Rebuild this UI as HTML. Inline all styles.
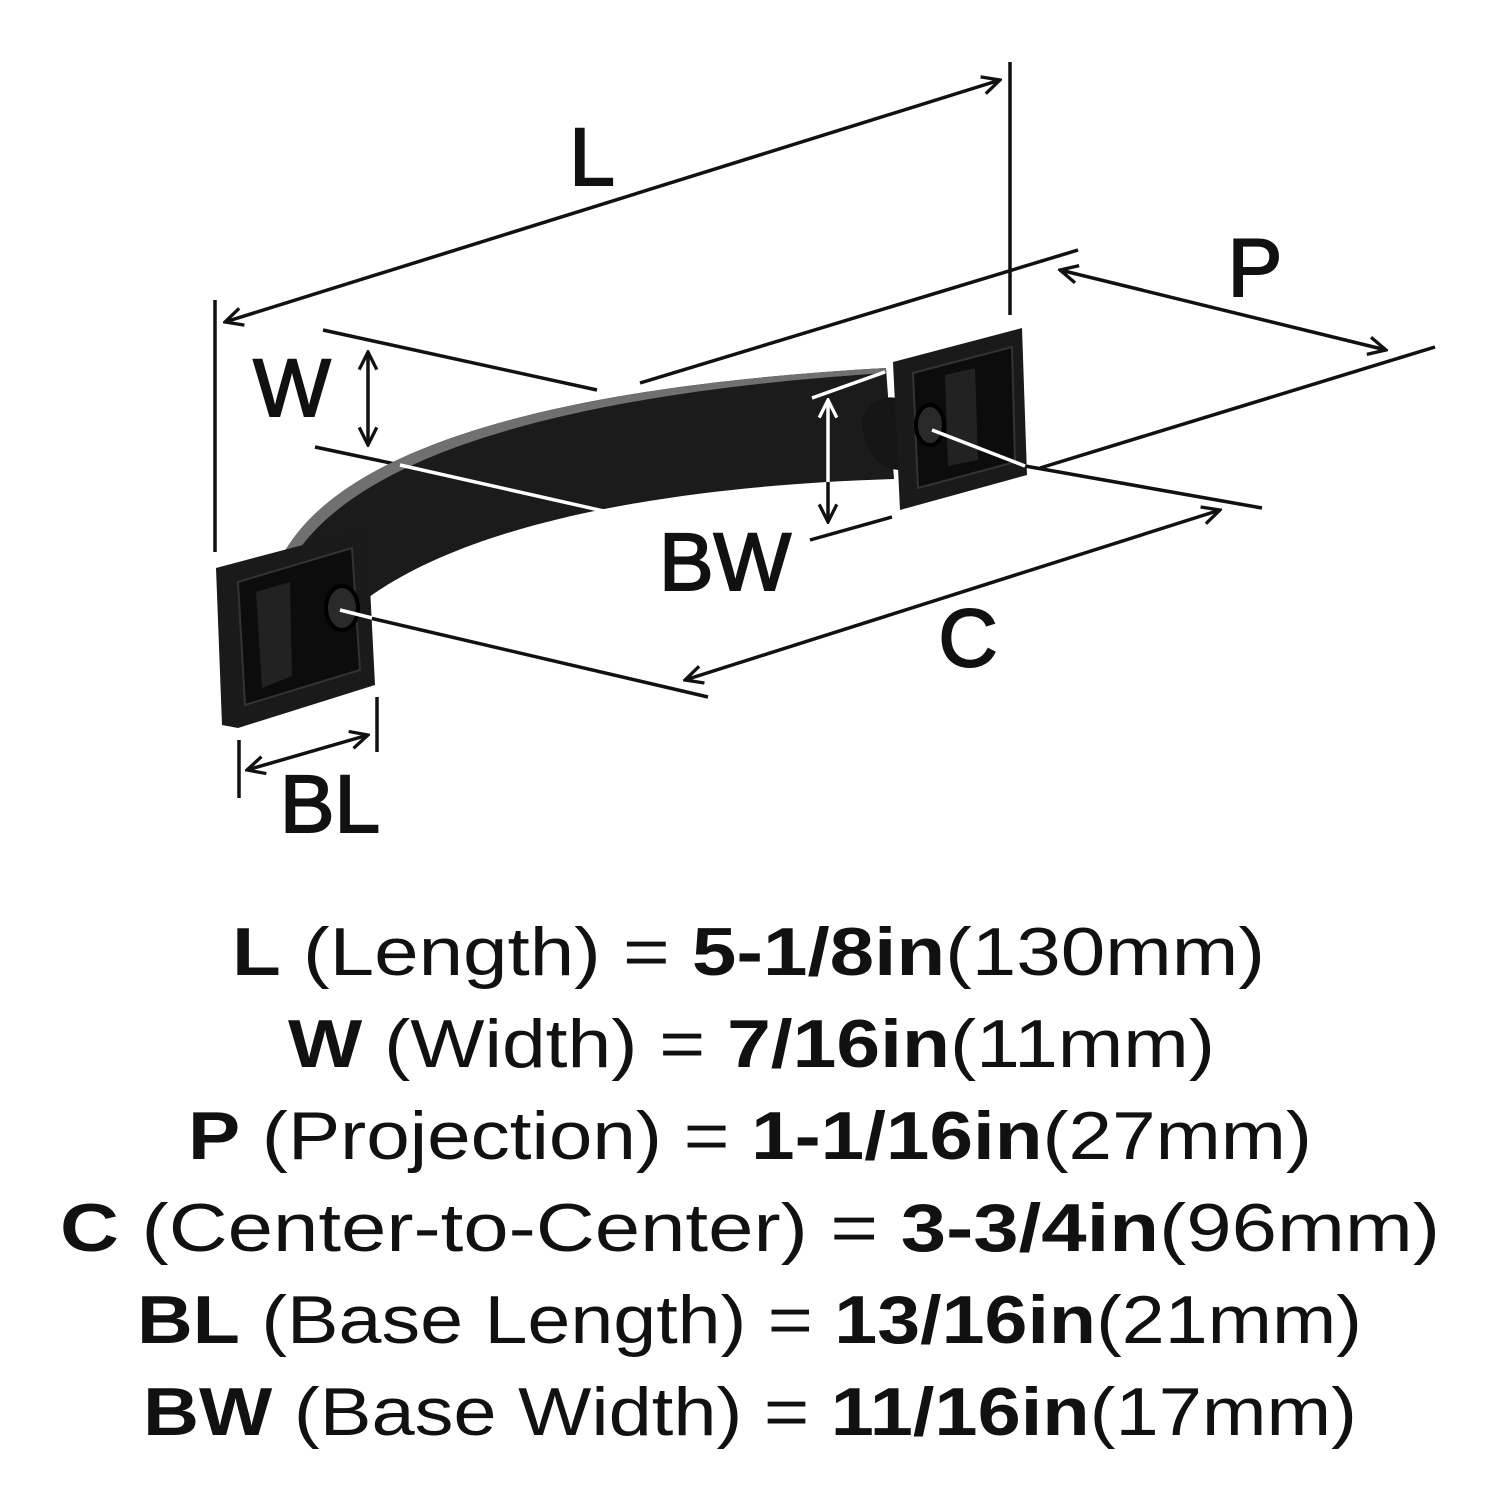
<!DOCTYPE html>
<html><head><style>
html,body{margin:0;padding:0;background:#fff;width:1500px;height:1500px;overflow:hidden}
svg{position:absolute;left:0;top:0}
.t{font-family:"Liberation Sans",sans-serif;font-size:68px;fill:#111}
.b{font-weight:bold}
.lab{font-family:"Liberation Sans",sans-serif;font-size:82px;fill:#111;stroke:#111;stroke-width:2}
</style></head><body>
<svg width="1500" height="1500" viewBox="0 0 1500 1500">
<defs>
<marker id="a" viewBox="0 0 20 20" refX="18" refY="10" markerWidth="22" markerHeight="22" markerUnits="userSpaceOnUse" orient="auto-start-reverse">
<path d="M2 2 L18 10 L2 18" fill="none" stroke="#111" stroke-width="3"/></marker>
<marker id="aw" viewBox="0 0 20 20" refX="18" refY="10" markerWidth="22" markerHeight="22" markerUnits="userSpaceOnUse" orient="auto-start-reverse">
<path d="M2 2 L18 10 L2 18" fill="none" stroke="#fff" stroke-width="3"/></marker>
</defs>
<g stroke="#111" stroke-width="3.5" fill="none">
<line x1="215" y1="300" x2="215" y2="552"/>
<line x1="1010" y1="62" x2="1010" y2="315"/>
<line x1="225" y1="322" x2="1000" y2="80" marker-start="url(#a)" marker-end="url(#a)"/>
<line x1="323" y1="330" x2="597" y2="390"/>
<line x1="315" y1="447" x2="400" y2="465"/>
<line x1="368" y1="352" x2="368" y2="445" marker-start="url(#a)" marker-end="url(#a)"/>
<line x1="640" y1="383" x2="1078" y2="250"/>
<line x1="1060" y1="270" x2="1386" y2="350" marker-start="url(#a)" marker-end="url(#a)"/>
<line x1="1040" y1="468" x2="1435" y2="347"/>
<line x1="685" y1="680" x2="1220" y2="510" marker-start="url(#a)" marker-end="url(#a)"/>
<line x1="1025" y1="466" x2="1262" y2="508"/>
<line x1="370" y1="618" x2="708" y2="697"/>
<line x1="810" y1="540" x2="892" y2="517"/>
<line x1="239" y1="740" x2="239" y2="798"/>
<line x1="377" y1="697" x2="377" y2="752"/>
<line x1="247" y1="770" x2="368" y2="735" marker-start="url(#a)" marker-end="url(#a)"/>
</g>
<!-- handle band -->
<path d="M280 560 C340 440 580 385 886 368 L894 479 C700 485 480 515 365 600 Z" fill="#1b1b1b"/>
<path d="M280 560 C340 440 580 385 886 368 L886 373 C590 392 360 448 292 560 Z" fill="#707070"/>
<!-- left plate -->
<polygon points="216,568 367,528 375,685 238,728 222,725" fill="#1a1a1a"/>
<polygon points="238,582 352,548 360,670 245,705" fill="#0c0c0c" stroke="#333" stroke-width="2"/>
<polygon points="256,592 290,582 292,676 262,688" fill="#222"/>
<ellipse cx="342" cy="608" rx="16" ry="22" fill="#2a2a2a" stroke="#000" stroke-width="4"/>
<!-- right plate -->
<path d="M862 420 C870 395 895 395 900 400 L900 470 C880 470 862 450 862 420 Z" fill="#151515"/>
<polygon points="893,362 1022,328 1027,475 900,510" fill="#1a1a1a"/>
<polygon points="913,373 1012,347 1015,462 918,488" fill="#0c0c0c" stroke="#333" stroke-width="2"/>
<polygon points="945,375 975,368 978,460 948,466" fill="#222"/>
<ellipse cx="930" cy="425" rx="14" ry="20" fill="#2a2a2a" stroke="#000" stroke-width="4"/>
<g stroke="#fff" stroke-width="3.5" fill="none">
<line x1="400" y1="465" x2="608" y2="512"/>
<line x1="340" y1="610" x2="372" y2="618"/>
<line x1="932" y1="430" x2="1025" y2="466"/>
<line x1="812" y1="398" x2="885" y2="372"/>
</g>
<line x1="828" y1="400" x2="828" y2="488" stroke="#fff" stroke-width="3.5" marker-start="url(#aw)"/>
<line x1="828" y1="482" x2="828" y2="522" stroke="#111" stroke-width="3.5" marker-end="url(#a)"/>
<text class="lab" x="592" y="185" text-anchor="middle">L</text>
<text class="lab" x="292" y="416" text-anchor="middle">W</text>
<text class="lab" x="1255" y="296" text-anchor="middle">P</text>
<text class="lab" x="968" y="666" text-anchor="middle">C</text>
<text class="lab" x="725" y="590" text-anchor="middle">BW</text>
<text class="lab" x="330" y="832" text-anchor="middle">BL</text>
<text class="t" x="232" y="975" textLength="1033" lengthAdjust="spacingAndGlyphs"><tspan class="b">L</tspan> (Length) = <tspan class="b">5-1/8in</tspan>(130mm)</text>
<text class="t" x="288" y="1067" textLength="927" lengthAdjust="spacingAndGlyphs"><tspan class="b">W</tspan> (Width) = <tspan class="b">7/16in</tspan>(11mm)</text>
<text class="t" x="188" y="1159" textLength="1124" lengthAdjust="spacingAndGlyphs"><tspan class="b">P</tspan> (Projection) = <tspan class="b">1-1/16in</tspan>(27mm)</text>
<text class="t" x="60" y="1251" textLength="1380" lengthAdjust="spacingAndGlyphs"><tspan class="b">C</tspan> (Center-to-Center) = <tspan class="b">3-3/4in</tspan>(96mm)</text>
<text class="t" x="137" y="1343" textLength="1225" lengthAdjust="spacingAndGlyphs"><tspan class="b">BL</tspan> (Base Length) = <tspan class="b">13/16in</tspan>(21mm)</text>
<text class="t" x="143" y="1435" textLength="1214" lengthAdjust="spacingAndGlyphs"><tspan class="b">BW</tspan> (Base Width) = <tspan class="b">11/16in</tspan>(17mm)</text>
</svg>
</body></html>
